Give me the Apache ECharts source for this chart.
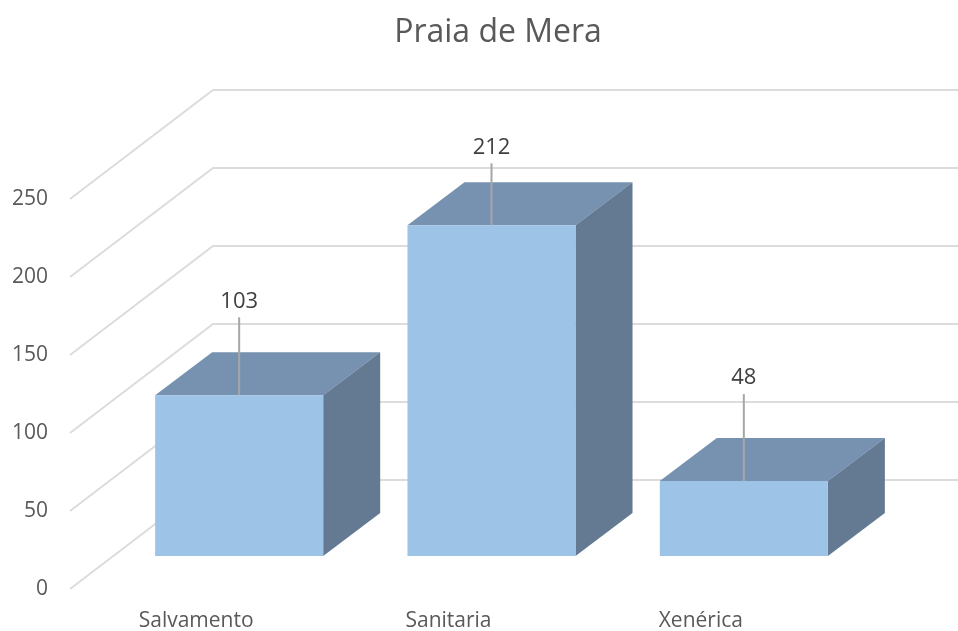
<!DOCTYPE html>
<html>
<head>
<meta charset="utf-8">
<title>Praia de Mera</title>
<style>
    html, body { margin: 0; padding: 0; background: #ffffff; }
    #myChart { width: 958px; height: 631px; }
</style>
</head>
<body>
<div id="myChart"></div>
<script src="https://cdn.jsdelivr.net/npm/echarts@6/dist/echarts.min.js"></script>
<script>
var categories = ['Salvamento', 'Sanitaria', 'Xenérica'];
var values = [103, 212, 48];
var yTicks = [0, 50, 100, 150, 200, 250];
var leaderLengths = [78, 62, 87];

var textColor = '#595959';
var fontName = '"Open Sans", sans-serif';

// perspective offsets, in pixels
var wallDx = 143, wallDy = -109;
var barDx = 43, barDy = -33;
var depthDx = 57, depthDy = -43;

var myChart = echarts.init(document.getElementById('myChart'));

function renderWall(params, api) {
    var rect = params.coordSys;
    var y = api.coord([0, api.value(1)])[1];
    return {
        type: 'polyline',
        shape: {
            points: [
                [rect.x, y],
                [rect.x + wallDx, y + wallDy],
                [rect.x + wallDx + rect.width, y + wallDy]
            ]
        },
        style: { fill: null, stroke: '#dcdcdc', lineWidth: 2 }
    };
}

function renderBar(params, api) {
    var i = api.value(0);
    var top = api.coord([i, api.value(1)]);
    var base = api.coord([i, 0]);
    var w = api.size([1, 0])[0] * 0.666;
    var x0 = top[0] + barDx - w / 2;
    var x1 = x0 + w;
    var yt = top[1] + barDy;
    var yb = base[1] + barDy;
    var cx = x0 + w / 2;
    var leadTop = yt - leaderLengths[i];
    return {
        type: 'group',
        children: [{
            type: 'polygon',
            shape: { points: [[x0, yt], [x1, yt], [x1 + depthDx, yt + depthDy], [x0 + depthDx, yt + depthDy]] },
            style: { fill: '#7692b0' }
        }, {
            type: 'polygon',
            shape: { points: [[x1, yt], [x1 + depthDx, yt + depthDy], [x1 + depthDx, yb + depthDy], [x1, yb]] },
            style: { fill: '#637a92' }
        }, {
            type: 'rect',
            shape: { x: x0, y: yt, width: w, height: yb - yt },
            style: { fill: '#9dc3e6' }
        }, {
            type: 'line',
            shape: { x1: cx, y1: yt, x2: cx, y2: leadTop },
            style: { stroke: '#a6a6a6', lineWidth: 2 }
        }, {
            type: 'text',
            style: {
                x: cx,
                y: leadTop - 16,
                text: String(api.value(1)),
                fill: '#404040',
                font: '22px ' + fontName,
                align: 'center',
                verticalAlign: 'middle'
            }
        }]
    };
}

var option = {
    backgroundColor: '#ffffff',
    animation: false,
    title: {
        text: 'Praia de Mera',
        left: 493,
        top: 12,
        textAlign: 'center',
        textStyle: { color: textColor, fontFamily: fontName, fontSize: 32, fontWeight: 'normal' }
    },
    grid: { left: 70, top: 199, width: 757, height: 390, outerBoundsMode: 'none' },
    xAxis: {
        type: 'category',
        data: categories,
        axisLine: { show: false },
        axisTick: { show: false },
        axisLabel: { color: textColor, fontFamily: fontName, fontSize: 21, margin: 22 }
    },
    yAxis: {
        type: 'value',
        min: 0,
        max: 250,
        interval: 50,
        axisLine: { show: false },
        axisTick: { show: false },
        splitLine: { show: false },
        axisLabel: { color: textColor, fontFamily: fontName, fontSize: 21, margin: 22, padding: [4, 0, 0, 0] }
    },
    series: [{
        type: 'custom',
        renderItem: renderWall,
        clip: false,
        silent: true,
        encode: { x: 0, y: 1 },
        data: yTicks.map(function (t) { return [0, t]; })
    }, {
        type: 'custom',
        renderItem: renderBar,
        clip: false,
        encode: { x: 0, y: 1 },
        data: values.map(function (v, i) { return [i, v]; })
    }]
};
myChart.setOption(option);
</script>
</body>
</html>
